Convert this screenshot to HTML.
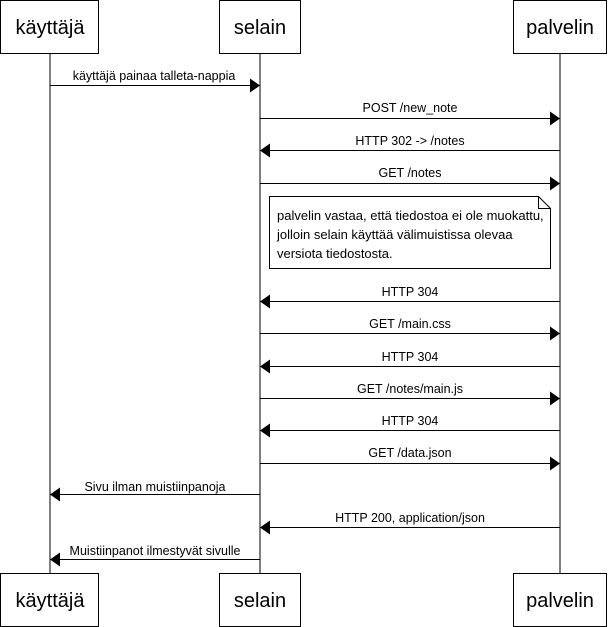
<!DOCTYPE html>
<html><head><meta charset="utf-8"><style>
body{margin:0;background:#fff;}
svg{display:block;font-family:"Liberation Sans",Arial,sans-serif;}
</style></head><body>
<svg width="608" height="627" viewBox="0 0 608 627" xmlns="http://www.w3.org/2000/svg">
<g stroke="#000" fill="none">
<line x1="50" y1="53" x2="50" y2="573"/>
<line x1="260" y1="53" x2="260" y2="573"/>
<line x1="560" y1="53" x2="560" y2="573"/>
<rect x="0.5" y="0.5" width="98" height="53" fill="#fff"/>
<rect x="219.5" y="0.5" width="81" height="53" fill="#fff"/>
<rect x="513.5" y="0.5" width="93" height="53" fill="#fff"/>
<rect x="0.5" y="573.5" width="98" height="53" fill="#fff"/>
<rect x="219.5" y="573.5" width="81" height="53" fill="#fff"/>
<rect x="513.5" y="573.5" width="93" height="53" fill="#fff"/>
<path d="M269.5 196.5 H538.5 L550.5 208.5 V268.5 H269.5 Z" fill="#fff"/>
<path d="M538.5 196.5 V208.5 H550.5"/>
</g>
<g font-size="20" text-anchor="middle">
<text x="50" y="34">käyttäjä</text><text x="260" y="34">selain</text><text x="560" y="34">palvelin</text>
<text x="50" y="607">käyttäjä</text><text x="260" y="607">selain</text><text x="560" y="607">palvelin</text>
</g>
<g font-size="13" fill="#000">
<text x="277" y="220">palvelin vastaa, että tiedostoa ei ole muokattu,</text>
<text x="277" y="239">jolloin selain käyttää välimuistissa olevaa</text>
<text x="277" y="258">versiota tiedostosta.</text>
</g>
<g stroke="#000">
<line x1="50" y1="85.5" x2="252" y2="85.5"/>
<line x1="260" y1="118.5" x2="552" y2="118.5"/>
<line x1="268" y1="150.5" x2="560" y2="150.5"/>
<line x1="260" y1="183.5" x2="552" y2="183.5"/>
<line x1="268" y1="301.5" x2="560" y2="301.5"/>
<line x1="260" y1="333.5" x2="552" y2="333.5"/>
<line x1="268" y1="366.5" x2="560" y2="366.5"/>
<line x1="260" y1="398.5" x2="552" y2="398.5"/>
<line x1="268" y1="430.5" x2="560" y2="430.5"/>
<line x1="260" y1="463.5" x2="552" y2="463.5"/>
<line x1="58" y1="494.5" x2="260" y2="494.5"/>
<line x1="268" y1="527.5" x2="560" y2="527.5"/>
<line x1="58" y1="559.5" x2="260" y2="559.5"/>
</g>
<g fill="#000">
<path d="M260 85.5 l-10 -7 v14z"/>
<path d="M560 118.5 l-10 -7 v14z"/>
<path d="M260 150.5 l10 -7 v14z"/>
<path d="M560 183.5 l-10 -7 v14z"/>
<path d="M260 301.5 l10 -7 v14z"/>
<path d="M560 333.5 l-10 -7 v14z"/>
<path d="M260 366.5 l10 -7 v14z"/>
<path d="M560 398.5 l-10 -7 v14z"/>
<path d="M260 430.5 l10 -7 v14z"/>
<path d="M560 463.5 l-10 -7 v14z"/>
<path d="M50 494.5 l10 -7 v14z"/>
<path d="M260 527.5 l10 -7 v14z"/>
<path d="M50 559.5 l10 -7 v14z"/>
</g>
<g font-size="12.5" text-anchor="middle" fill="#000">
<text x="154" y="80">käyttäjä painaa talleta-nappia</text>
<text x="410" y="112">POST /new_note</text>
<text x="410" y="145">HTTP 302 -&gt; /notes</text>
<text x="410" y="177">GET /notes</text>
<text x="410" y="296">HTTP 304</text>
<text x="410" y="328">GET /main.css</text>
<text x="410" y="361">HTTP 304</text>
<text x="410" y="393">GET /notes/main.js</text>
<text x="410" y="425">HTTP 304</text>
<text x="410" y="457">GET /data.json</text>
<text x="155" y="491">Sivu ilman muistiinpanoja</text>
<text x="410" y="522">HTTP 200, application/json</text>
<text x="155" y="555">Muistiinpanot ilmestyvät sivulle</text>
</g>
</svg>
</body></html>
